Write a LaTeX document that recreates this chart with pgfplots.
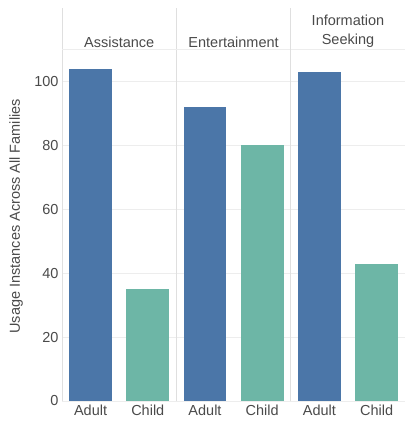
\documentclass[border=0pt]{standalone}
\usepackage{fontspec}
\setmainfont{Liberation Sans}
\usepackage{pgfplots}
\pgfplotsset{compat=1.18}
\usepgfplotslibrary{groupplots}

\definecolor{adultc}{HTML}{4B76A8}
\definecolor{childc}{HTML}{6DB6A6}
\definecolor{txt}{HTML}{4A4A4A}
\definecolor{gridc}{HTML}{EDEDED}

\pgfplotsset{
  facet/.style={
    width=114.4pt, height=393pt, scale only axis,
    xmin=-0.5, xmax=1.5, ymin=0, ymax=123,
    ybar, bar width=0.75, bar shift=0pt,
    axis line style={draw=none},
    major tick length=0pt,
    xtick={0,1}, xticklabels={Adult,Child},
    ytick={0,20,...,100},
    extra y ticks={110}, extra y tick labels={},
    extra y tick style={grid=major},
    extra x ticks={-0.5}, extra x tick labels={},
    extra x tick style={grid=major, major grid style={gray!25, line width=0.7pt}},
    ymajorgrids, major grid style={gridc, line width=0.6pt},
    tick label style={font=\fontsize{14.5}{16}\selectfont, text=txt},
    /pgf/number format/assume math mode=true,
    title style={at={(0.5,1)}, anchor=south, yshift=-46pt, align=center,
      inner sep=0pt, font=\fontsize{14.5}{19}\selectfont, text=txt},
    clip=false,
  },
}

\begin{document}
\begin{tikzpicture}
\begin{groupplot}[group style={group size=3 by 1, horizontal sep=0pt}, facet]
  \nextgroupplot[title={Assistance},
    ylabel={Usage Instances Across All Families},
    ylabel style={at={(axis description cs:-0.40,0.47)}, anchor=center,
      font=\fontsize{14.5}{16}\selectfont, text=txt}]
  \addplot[fill=adultc, draw=none] coordinates {(0,104)};
  \addplot[fill=childc, draw=none] coordinates {(1,35)};

  \nextgroupplot[title={Entertainment}, yticklabels={}]
  \addplot[fill=adultc, draw=none] coordinates {(0,92)};
  \addplot[fill=childc, draw=none] coordinates {(1,80)};

  \nextgroupplot[title={Information\\Seeking}, yticklabels={}]
  \addplot[fill=adultc, draw=none] coordinates {(0,103)};
  \addplot[fill=childc, draw=none] coordinates {(1,43)};
\end{groupplot}
\pgfresetboundingbox
\path ([shift={(-62pt,-21pt)}]group c1r1.south west)
  rectangle ([shift={(343pt,401pt)}]group c1r1.south west);
\end{tikzpicture}
\end{document}
